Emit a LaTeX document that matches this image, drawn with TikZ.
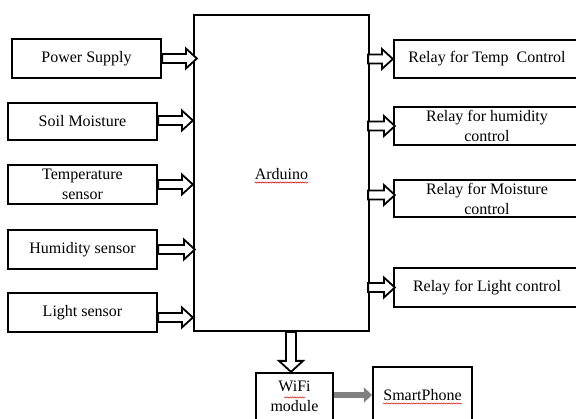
\documentclass[tikz,border=0pt]{standalone}
\usepackage{fontspec}
\setmainfont{Liberation Serif}
\usetikzlibrary{arrows.meta,decorations.pathmorphing,calc}
\begin{document}
\begin{tikzpicture}[x=1pt,y=-1pt,
  box/.style={draw=black,line width=2.2pt,rectangle,inner sep=0pt,align=center,
    font=\fontsize{16}{20}\selectfont},
  txt/.style={inner sep=0pt,font=\fontsize{16}{20}\selectfont},
  harrow/.style={draw=black,fill=white,line width=1.8pt,line join=miter,
    to path={let \p1=(\tikztostart),\p2=(\tikztotarget) in
      (\x1,\y1+4.5pt) -- (\x2-11pt,\y1+4.5pt) -- (\x2-11pt,\y1+10pt) -- (\x2,\y1)
      -- (\x2-11pt,\y1-10pt) -- (\x2-11pt,\y1-4.5pt) -- (\x1,\y1-4.5pt) -- cycle}},
  varrow/.style={draw=black,fill=white,line width=1.8pt,line join=miter,
    to path={let \p1=(\tikztostart),\p2=(\tikztotarget) in
      (\x1+5pt,\y1) -- (\x1+5pt,\y2+11pt) -- (\x1+12pt,\y2+11pt) -- (\x1,\y2)
      -- (\x1-12pt,\y2+11pt) -- (\x1-5pt,\y2+11pt) -- (\x1-5pt,\y1) -- cycle}},
  grayarrow/.style={draw={rgb,255:red,128;green,128;blue,128},line width=6.5pt,
    -{Triangle[length=8pt,width=15pt]}},
  spell/.style={draw=red!80!black,line width=0.5pt,
    decorate,decoration={snake,amplitude=0.6pt,segment length=2.5pt}}]
\useasboundingbox (0,0) rectangle (576,419);
\fill[white] (0,0) rectangle (576,419);

% Arduino
\node[box,minimum width=175pt,minimum height=316pt] (ard) at (281.5,173) {};
\node[txt] (ardt) at (281.5,174) {Arduino};

% inputs
\node[box,minimum width=149pt,minimum height=39pt] (ps) at (86.5,58.5) {Power Supply};
\node[box,minimum width=149pt,minimum height=37pt] (sm) at (82.5,121.5) {Soil Moisture};
\node[box,minimum width=149pt,minimum height=39pt] (ts) at (82.5,184.5) {Temperature\\sensor};
\node[box,minimum width=149pt,minimum height=39pt] (hs) at (82.5,249.5) {Humidity sensor};
\node[box,minimum width=149pt,minimum height=39pt] (ls) at (82.5,312.5) {Light sensor};

% relays
\node[box,minimum width=186pt,minimum height=38pt] (rt) at (487,59) {Relay for Temp\ \ Control};
\node[box,minimum width=186pt,minimum height=38pt] (rh) at (487,126) {Relay for humidity\\control};
\node[box,minimum width=186pt,minimum height=37pt] (rm) at (487,198.5) {Relay for Moisture\\control};
\node[box,minimum width=186pt,minimum height=39pt] (rl) at (487,287.5) {Relay for Light control};

% wifi + smartphone
\node[box,minimum width=77pt,minimum height=60pt] (wifi) at (294.5,403) {};
\node[txt,align=center] (wifit) at (294.5,396) {WiFi\\module};
\node[box,minimum width=99pt,minimum height=66pt] (sp) at (422.5,400) {};
\node[txt] (spt) at (422.5,395) {SmartPhone};

% input arrows
\draw[harrow] (ps.east) to ([xshift=4pt]ard.west |- ps.east);
\draw[harrow] ([yshift=1pt]sm.east) to ([xshift=0pt,yshift=1pt]ard.west |- sm.east);
\draw[harrow] (ts.east) to ([xshift=0pt]ard.west |- ts.east);
\draw[harrow] (hs.east) to ([xshift=2pt]ard.west |- hs.east);
\draw[harrow] ([yshift=-5pt]ls.east) to ([xshift=0pt,yshift=-5pt]ard.west |- ls.east);

% output arrows
\draw[harrow] ([xshift=-2pt]ard.east |- rt.west) to (rt.west);
\draw[harrow] ([xshift=-2pt]ard.east |- rh.west) to ([xshift=2pt]rh.west);
\draw[harrow] ([xshift=-2pt,yshift=3.5pt]ard.east |- rm.west) to ([xshift=2pt,yshift=3.5pt]rm.west);
\draw[harrow] ([xshift=-2pt]ard.east |- rl.west) to ([xshift=2pt]rl.west);

% down arrow
\draw[varrow] ([xshift=-3.5pt]ard.south -| wifi.north) to ([xshift=-3.5pt]wifi.north);

% gray arrow
\draw[grayarrow] (wifi.east |- spt) -- (sp.west |- spt);

% spell-check underlines
\draw[spell] ([yshift=-3pt]ardt.base west) -- ([yshift=-3pt]ardt.base east);
\path (wifit.north west) ++(0,16) coordinate (wu);
\draw[spell] ([xshift=14pt,yshift=-1pt]wifit.north west |- wu) -- ([xshift=-14pt,yshift=-1pt]wifit.north east |- wu);
\draw[spell] ([yshift=-3pt]spt.base west) -- ([yshift=-3pt]spt.base east);
\end{tikzpicture}
\end{document}
